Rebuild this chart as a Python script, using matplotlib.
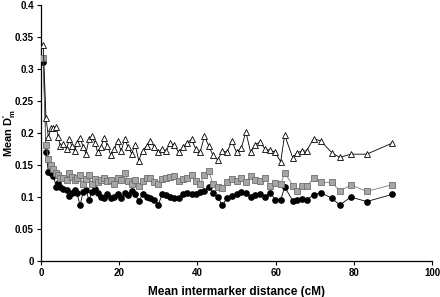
import numpy as np
import matplotlib
matplotlib.use('Agg')
import matplotlib.pyplot as plt

plt.rcParams['font.family'] = ['Liberation Sans', 'DejaVu Sans']
plt.rcParams['font.weight'] = 'bold'
plt.rcParams['mathtext.fontset'] = 'custom'
plt.rcParams['mathtext.rm'] = 'Liberation Sans:bold'
plt.rcParams['mathtext.bf'] = 'Liberation Sans:bold'
plt.rcParams['mathtext.it'] = 'Liberation Sans:bold'

# Data
dist = [0.6, 1.3, 1.9, 2.6, 3.2, 3.9, 4.4, 5.0, 5.7, 6.6,
        7.2, 7.9, 8.6, 9.2, 10.0, 10.8, 11.5, 12.3, 13.0, 13.8,
        14.5, 15.3, 16.2, 17.0, 17.9, 18.8, 19.6, 20.5, 21.4, 22.3,
        23.2, 24.1, 25.0, 26.0, 27.0, 28.0, 29.0, 30.0, 31.0, 32.0,
        33.0, 34.1, 35.2, 36.3, 37.4, 38.5, 39.6, 40.7, 41.8, 42.9,
        44.0, 45.2, 46.4, 47.6, 48.8, 50.0, 51.2, 52.4, 53.6, 54.8,
        56.0, 57.3, 58.6, 59.9, 61.3,
        62.3, 64.4, 65.4, 66.7, 67.9, 69.7, 71.5, 74.4, 76.4, 79.2, 83.3, 89.7]

triangles = [0.337, 0.224, 0.194, 0.208, 0.208, 0.210, 0.194, 0.179, 0.183, 0.175,
             0.190, 0.180, 0.172, 0.185, 0.193, 0.178, 0.168, 0.190, 0.195, 0.185,
             0.170, 0.178, 0.192, 0.180, 0.165, 0.175, 0.188, 0.172, 0.190, 0.178,
             0.168, 0.182, 0.157, 0.172, 0.180, 0.188, 0.178, 0.170, 0.175, 0.172,
             0.184, 0.181, 0.170, 0.178, 0.185, 0.190, 0.175, 0.170, 0.195, 0.180,
             0.165, 0.158, 0.172, 0.170, 0.188, 0.170, 0.176, 0.202, 0.170, 0.182,
             0.186, 0.175, 0.173, 0.170, 0.155,
             0.197, 0.161, 0.169, 0.172, 0.172, 0.191, 0.188, 0.169, 0.162, 0.167, 0.167, 0.184]

squares = [0.318, 0.181, 0.160, 0.150, 0.144, 0.137, 0.135, 0.129, 0.130, 0.126,
           0.138, 0.131, 0.127, 0.130, 0.134, 0.121, 0.128, 0.134, 0.121, 0.128,
           0.124, 0.126, 0.130, 0.125, 0.127, 0.120, 0.129, 0.126, 0.137, 0.125,
           0.120, 0.127, 0.118, 0.125, 0.129, 0.130, 0.124, 0.121, 0.128, 0.130,
           0.131, 0.133, 0.125, 0.128, 0.130, 0.134, 0.125, 0.120, 0.135, 0.141,
           0.120, 0.116, 0.114, 0.123, 0.128, 0.125, 0.130, 0.124, 0.133, 0.127,
           0.125, 0.130, 0.118, 0.122, 0.120,
           0.138, 0.118, 0.109, 0.118, 0.117, 0.129, 0.123, 0.123, 0.109, 0.119, 0.109, 0.119]

circles = [0.311, 0.170, 0.139, 0.137, 0.133, 0.116, 0.122, 0.115, 0.112, 0.111,
           0.101, 0.107, 0.111, 0.107, 0.087, 0.108, 0.111, 0.095, 0.108, 0.112,
           0.106, 0.100, 0.098, 0.104, 0.098, 0.100, 0.105, 0.099, 0.106, 0.103,
           0.109, 0.104, 0.094, 0.104, 0.100, 0.098, 0.096, 0.088, 0.104, 0.103,
           0.100, 0.098, 0.099, 0.104, 0.106, 0.104, 0.104, 0.108, 0.110, 0.116,
           0.106, 0.100, 0.087, 0.099, 0.101, 0.104, 0.108, 0.106, 0.100, 0.103,
           0.104, 0.100, 0.107, 0.096, 0.095,
           0.116, 0.094, 0.095, 0.097, 0.096, 0.103, 0.107, 0.098, 0.0875, 0.100, 0.093, 0.104]

yticks = [0, 0.05, 0.1, 0.15, 0.2, 0.25, 0.3, 0.35, 0.4]
ytick_labels = ['0', '0.05', '0.1', '0.15', '0.2', '0.25', '0.3', '0.35', '0.4']
xticks = [0, 20, 40, 60, 80, 100]

fig = plt.figure(figsize=(4.4, 2.97), dpi=100)
ax = fig.add_axes([0.093, 0.121, 0.889, 0.862])

ax.plot(dist, circles, '-o', color='black', lw=0.6, ms=3.8,
        mfc='black', mec='black', zorder=3)
ax.plot(dist, squares, '-s', color='#7a7a7a', lw=0.6, ms=3.8,
        mfc='#a6a6a6', mec='#6e6e6e', mew=0.6, zorder=4)
ax.plot(dist, triangles, '-^', color='black', lw=0.6, ms=4.4,
        mfc='white', mec='black', mew=0.6, zorder=5)

ax.set_xlim(0, 100)
ax.set_ylim(0, 0.4)
ax.set_xticks(xticks)
ax.set_yticks(yticks)
ax.set_yticklabels(ytick_labels)
ax.tick_params(labelsize=7, length=3, width=0.8, direction='out', pad=2)
for side in ['top', 'right']:
    ax.spines[side].set_visible(False)
for side in ['left', 'bottom']:
    ax.spines[side].set_linewidth(0.9)

ax.set_xlabel('Mean intermarker distance (cM)', fontsize=8.5, fontweight='bold', labelpad=6)
ax.set_ylabel(r"Mean D$^{\prime}_{m}$", fontsize=8, fontweight='bold')
ax.yaxis.set_label_coords(-0.058, 0.5)

fig.savefig('out.png', dpi=100)
